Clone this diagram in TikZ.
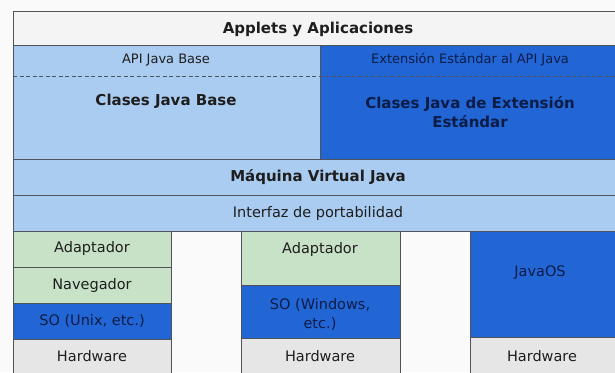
\documentclass[tikz,border=0pt]{standalone}
\usepackage{fontspec}
\setmainfont{DejaVu Sans}
\definecolor{lblue}{RGB}{170,204,240}
\definecolor{dblue}{RGB}{34,102,214}
\definecolor{lgreen}{RGB}{200,226,200}
\definecolor{hwgray}{RGB}{230,230,230}
\definecolor{topgray}{RGB}{244,244,244}
\definecolor{edge}{RGB}{80,84,90}
\definecolor{txt}{RGB}{30,30,30}
\definecolor{navy}{RGB}{12,28,70}
\definecolor{bg}{RGB}{250,250,250}
\tikzset{
  box/.style={draw=edge, line width=0.9pt, anchor=north west, inner sep=0pt, outer sep=0pt},
  bigb/.style={font=\bfseries\fontsize{15}{19}\selectfont, text=txt, align=center},
  bign/.style={font=\bfseries\fontsize{15}{19}\selectfont, text=navy, align=center},
  reg/.style={font=\fontsize{14.5}{19}\selectfont, text=txt, align=center},
  regn/.style={font=\fontsize{14.5}{19}\selectfont, text=navy, align=center},
  small/.style={font=\fontsize{13}{15}\selectfont, text=txt},
  smalln/.style={font=\fontsize{13}{15}\selectfont, text=navy}
}
\begin{document}
\begin{tikzpicture}[x=1pt,y=-1pt]
\useasboundingbox (0,0) rectangle (615,372);
\fill[bg] (0,0) rectangle (615,372);
\begin{scope}
\clip (0,0) rectangle (615,372);
% top row
\node[box, fill=topgray, minimum width=606pt, minimum height=34pt] (app) at (13,11) {};
% API blocks
\node[box, fill=lblue, minimum width=307pt, minimum height=114pt] (base) at (13,45) {};
\node[box, fill=dblue, minimum width=299pt, minimum height=114pt] (ext) at (320,45) {};
\coordinate (dl) at (13,76);
\coordinate (dr) at (620,76);
\draw[edge, line width=0.8pt, dash pattern=on 4pt off 2.5pt] (dl) -- (dr);
% JVM and portability
\node[box, fill=lblue, minimum width=606pt, minimum height=36pt] (jvm) at (13,159) {};
\node[box, fill=lblue, minimum width=606pt, minimum height=36pt] (port) at (13,195) {};
% column 1
\node[box, fill=lgreen, minimum width=158pt, minimum height=36pt] (ad1) at (13,231) {};
\node[box, fill=lgreen, minimum width=158pt, minimum height=36pt] (nav) at (13,267) {};
\node[box, fill=dblue, minimum width=158pt, minimum height=36pt] (so1) at (13,303) {};
\node[box, fill=hwgray, minimum width=158pt, minimum height=40pt] (hw1) at (13,339) {};
% column 2
\node[box, fill=lgreen, minimum width=159pt, minimum height=54pt] (ad2) at (241,231) {};
\node[box, fill=dblue, minimum width=159pt, minimum height=53pt] (so2) at (241,285) {};
\node[box, fill=hwgray, minimum width=159pt, minimum height=40pt] (hw2) at (241,338) {};
% column 3
\node[box, fill=dblue, minimum width=150pt, minimum height=106pt] (jos) at (470,231) {};
\node[box, fill=hwgray, minimum width=150pt, minimum height=40pt] (hw3) at (470,337) {};
\end{scope}
% texts
\node[bigb] (tapp) at (318,29) {Applets y Aplicaciones};
\node[small] (tapi) at (166,60) {API Java Base};
\node[smalln] (text) at (470,60) {Extensión Estándar al API Java};
\node[bigb] (tbase) at (166,101) {Clases Java Base};
\node[bign] (tcext) at (470,112) {Clases Java de Extensión\\Estándar};
\node[bigb] (tjvm) at (318,177) {Máquina Virtual Java};
\node[reg] (tport) at (318,213) {Interfaz de portabilidad};
\node[reg] (tad1) at (92,248) {Adaptador};
\node[reg] (tnav) at (92,285) {Navegador};
\node[regn] (tso1) at (92,321) {SO (Unix, etc.)};
\node[reg] (thw1) at (92,356) {Hardware};
\node[reg] (tad2) at (320,249) {Adaptador};
\node[regn] (tso2) at (320,314) {SO (Windows,\\etc.)};
\node[reg] (thw2) at (320,356) {Hardware};
\node[regn] (tjos) at (540,273) {JavaOS};
\node[reg] (thw3) at (542,356) {Hardware};
\end{tikzpicture}
\end{document}
